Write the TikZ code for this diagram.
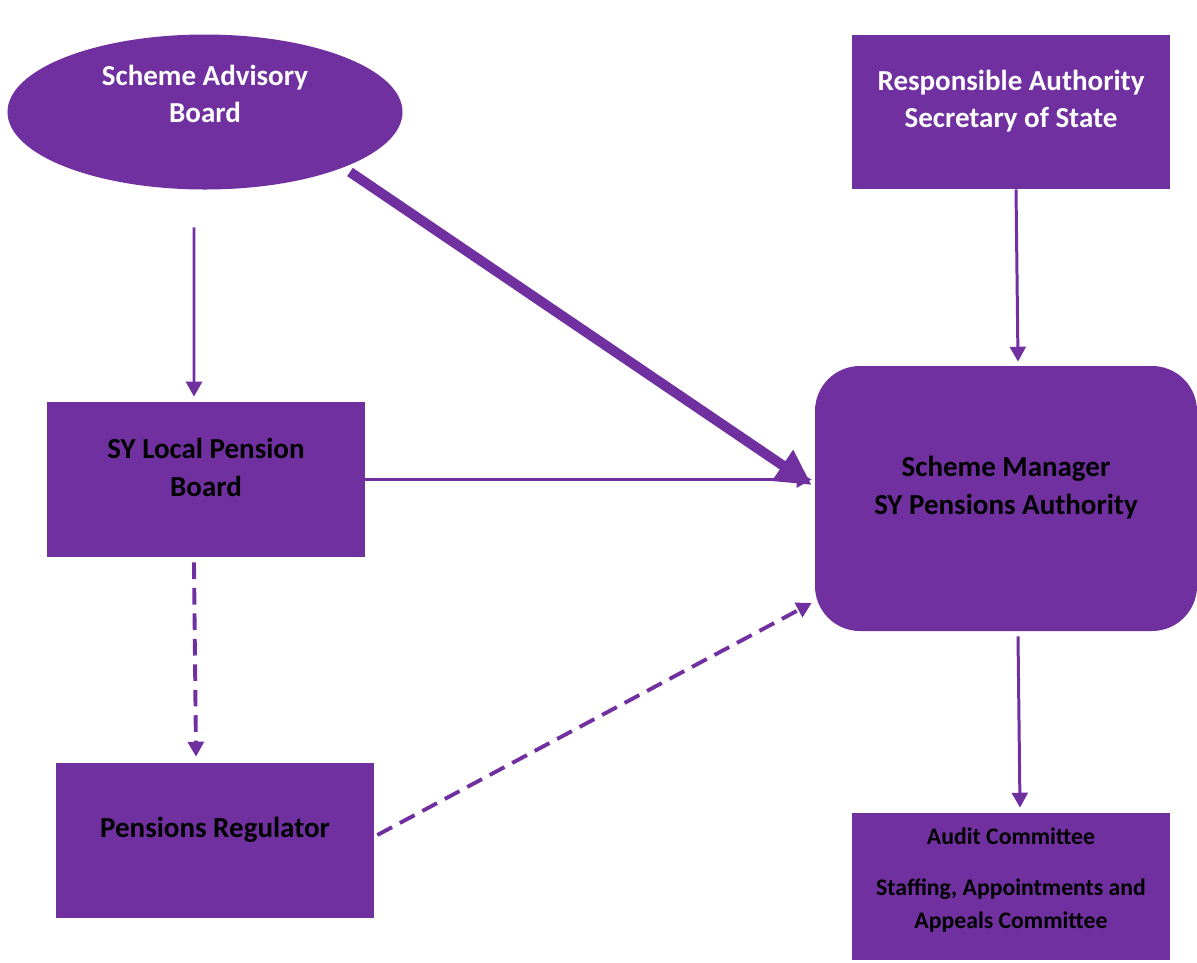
\documentclass[tikz,border=0pt]{standalone}
\usepackage{fontspec}
\setmainfont{Carlito}
\usepackage{xcolor}
\usetikzlibrary{arrows.meta,shapes.geometric}
\definecolor{govpurple}{RGB}{112,48,160}

\begin{document}
\begin{tikzpicture}[
  pbox/.style={draw=none,fill=govpurple,minimum width=6.36cm,
               minimum height=3.1cm,inner sep=0pt},
  pell/.style={ellipse,draw=none,fill=govpurple,minimum width=7.9cm,
               minimum height=3.1cm,inner sep=0pt},
  txt/.style={align=center,font=\fontsize{16.5}{21.5}\selectfont\bfseries},
  small/.style={align=center,font=\fontsize{13.5}{18.7}\selectfont\bfseries},
  lnk/.style={govpurple,line width=1.7pt,-{Triangle[length=8.5pt,width=9pt]}},
  dlnk/.style={lnk,line width=2.2pt,dash pattern=on 9.5pt off 5pt},
  big/.style={govpurple,line width=5.7pt,-{Triangle[length=20pt,width=20pt]}},
]
\useasboundingbox (0,0) rectangle (23.94,-19.24);

\node[pell] (sab) at (4.1,-2.24)
  {}; \node[txt,text=white] (sabt) at ([yshift=0.36cm]sab.center) {Scheme Advisory\\Board};
\node[pbox,minimum height=3.08cm] (ra) at (20.22,-2.24) {};
\node[txt,text=white] (rat) at ([yshift=0.22cm]ra.center)
  {Responsible Authority\\Secretary of State};
\node[pbox] (slpb) at (4.12,-9.59) {};
\node[txt] (slpbt) at ([yshift=0.24cm]slpb.center) {SY Local Pension\\Board};
\node[pbox,minimum width=7.64cm,minimum height=5.3cm,rounded corners=0.9cm]
  (sm) at (20.12,-9.97) {};
\node[txt] (smt) at ([yshift=0.22cm]sm.center) {Scheme Manager\\SY Pensions Authority};
\node[pbox] (pr) at (4.3,-16.81) {};
\node[txt] (prt) at ([yshift=0.21cm]pr.center) {Pensions Regulator};
\node[pbox,minimum height=2.94cm] (ac) at (20.22,-17.73) {};
\node[small] (act) at ([yshift=0.13cm]ac.center)
  {Audit Committee\\[10.8pt]Staffing, Appointments and\\Appeals Committee};

% connectors
\draw[lnk] ([shift={(-0.22,-0.75)}]sab.south) -- ([shift={(-0.24,0.1)}]slpb.north);
\draw[lnk] (slpb.east) -- ([xshift=-0.06cm]slpb.east -| sm.west);
\draw[big] ([shift={(2.9,-1.2)}]sab.center) -- ([shift={(-0.06,0.27)}]sm.west);
\draw[lnk] ([xshift=0.1cm]ra.south) -- ([shift={(0.24,0.08)}]sm.north);
\draw[lnk] ([shift={(0.24,-0.1)}]sm.south) -- ([shift={(0.18,0.1)}]ac.north);
\draw[dlnk] ([shift={(-0.24,-0.1)}]slpb.south) -- ([shift={(-0.38,0.12)}]pr.north);
\draw[dlnk] ([shift={(0.06,0.11)}]pr.east) -- ([shift={(-0.06,-2.09)}]sm.west);
\end{tikzpicture}
\end{document}
